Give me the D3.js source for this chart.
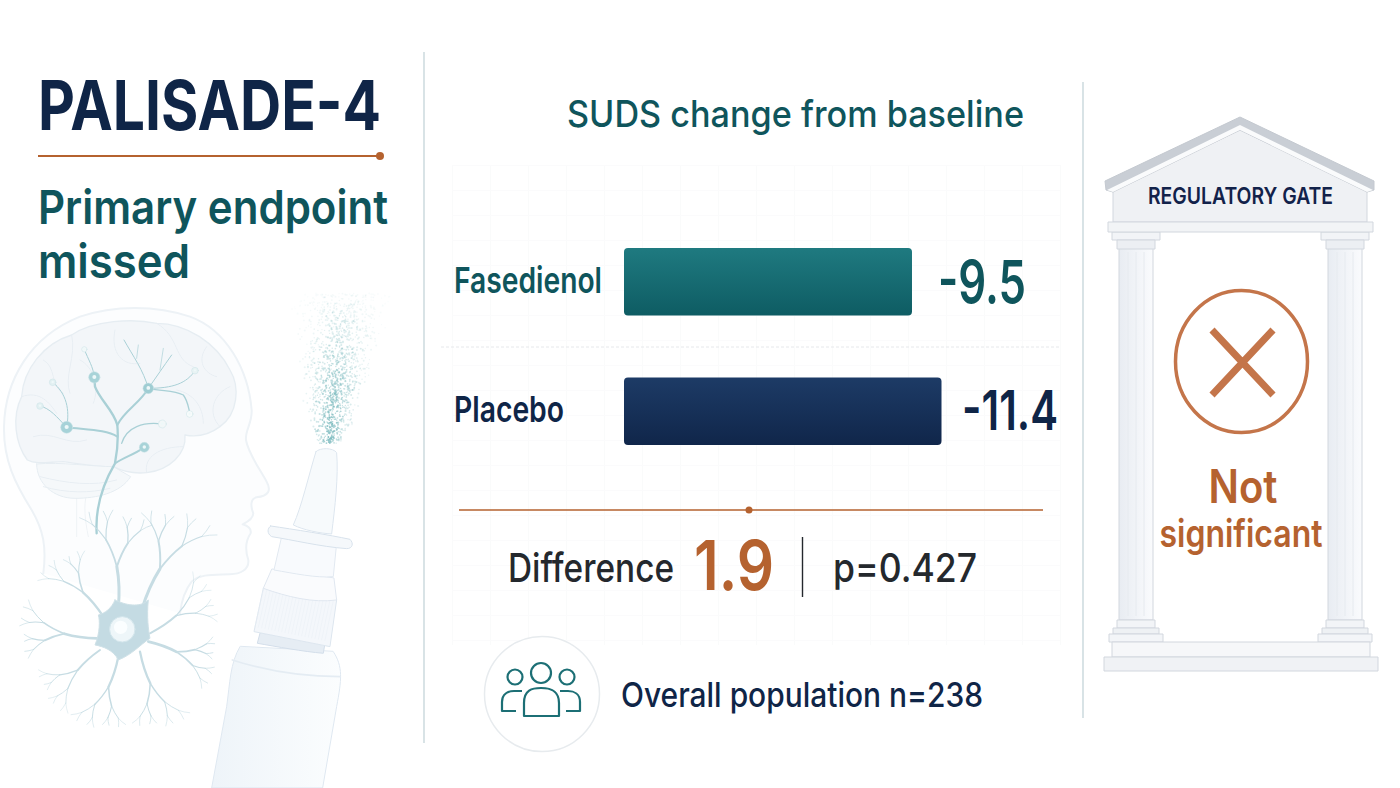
<!DOCTYPE html>
<html><head><meta charset="utf-8">
<script src="https://cdn.jsdelivr.net/npm/d3@7/dist/d3.min.js"></script>
<style>html,body{margin:0;padding:0;background:#fff;overflow:hidden}svg{display:block}text{font-family:Inter,Roboto,sans-serif}</style>
</head><body><svg id="c" width="1400" height="788" viewBox="0 0 1400 788"></svg>
<script>
const categories = ["Fasedienol", "Placebo"];
const values = [-9.5, -11.4];
const difference = 1.9;
const pValue = "p=0.427";
const population = "Overall population n=238";
const title = "PALISADE-4";
const subtitle = ["Primary endpoint", "missed"];
const chartTitle = "SUDS change from baseline";
const verdict = ["Not", "significant"];
const gateLabel = "REGULATORY GATE";

const NAVY="#0f2547", TEAL="#0f555c", RUST="#b5622f", INK="#24282d";
const svg=d3.select("#c");
const defs=svg.append("defs");
function grad(id,a,b,h){const g=defs.append("linearGradient").attr("id",id).attr("x1",0).attr("x2",h?1:0).attr("y1",0).attr("y2",h?0:1);
 g.append("stop").attr("offset",0).attr("stop-color",a);g.append("stop").attr("offset",1).attr("stop-color",b);}
grad("g0","#1f7a80","#0e5c63");grad("g1","#1d3b66","#10264a");
grad("shaft","#e8ecf2","#fafbfd",true);grad("bottle","#eef4f9","#fbfdfe",true);
function T(s,x,y,size,fill,weight,len,anchor){const t=svg.append("text").attr("x",x).attr("y",y).attr("font-size",size).attr("fill",fill).attr("font-weight",weight).text(s);
 if(anchor)t.attr("text-anchor",anchor);
 if(len)t.attr("textLength",len).attr("lengthAdjust","spacingAndGlyphs");return t;}

/* ---------- left illustration (traced in 3x crop space) ---------- */
const il=svg.append("g").attr("transform","translate(0,280) scale(0.3333)").attr("fill","none").attr("stroke-linecap","round").attr("stroke-linejoin","round");
il.append("path").attr("d","M130,880 C140,800 130,750 95,690 C45,610 10,540 12,440 C15,300 90,170 240,110 C340,75 470,75 570,110 C680,150 745,270 755,390 C757,430 735,450 738,480 C745,520 775,560 800,605 C815,632 805,648 770,652 C750,656 752,680 760,700 C760,715 745,725 728,733 C745,738 755,745 752,760 C735,785 735,810 745,840 C748,870 720,882 690,883 C650,885 600,880 575,905 C555,930 545,960 540,1000")
 .attr("fill","#fcfdfe").attr("stroke","#edf2f6").attr("stroke-width",6);
il.append("path").attr("d","M230,650 L230,770 M260,640 C250,680 255,720 265,770").attr("stroke","#eff3f6").attr("stroke-width",3);
il.append("path").attr("d","M82,540 C45,490 35,410 65,350 C70,270 130,190 215,165 C280,120 400,115 470,130 C560,130 650,190 690,270 C720,320 715,400 660,440 C620,470 580,470 555,465 C560,520 510,570 440,578 C400,582 370,575 340,560 C280,560 230,550 190,545 C150,545 110,555 82,540 Z")
 .attr("fill","#f3f6f9").attr("stroke","#e6edf2").attr("stroke-width",4);
il.append("path").attr("d","M110,552 C110,610 160,655 225,655 C290,655 360,640 392,590 L340,560 C280,560 180,545 110,552 Z").attr("fill","#f5f8fa").attr("stroke","#e6edf2").attr("stroke-width",3);
["M215,165 C230,230 190,290 210,340","M345,150 C330,220 370,260 420,250","M470,130 C540,170 520,240 580,260","M65,350 C120,330 150,370 170,400","M660,440 C620,400 640,340 690,320","M100,470 C160,450 200,500 260,480","M440,578 C430,530 480,500 550,500","M240,240 C280,260 300,320 280,370","M530,330 C580,340 610,380 610,430","M130,240 C170,260 150,320 190,340","M620,200 C590,240 610,280 650,290","M120,590 C200,610 280,620 350,600","M130,620 C200,640 270,640 330,625"]
 .forEach(d=>il.append("path").attr("d",d).attr("stroke","#e8eef3").attr("stroke-width",3));
const pw="#a9d0d6";
[["M290,760 C285,680 310,610 345,550 C355,500 355,470 352,435 C340,390 300,360 285,320 L283,292",7],
 ["M352,435 C375,390 420,370 445,325",6],["M445,325 C490,335 520,330 550,345 C565,365 565,385 570,400",4],["M445,325 C520,325 560,310 585,272",3],
 ["M445,325 C430,270 400,230 372,180",3],["M445,325 C470,290 490,260 515,225",3],["M410,235 L415,195",2],["M480,270 L490,205",2],
 ["M345,550 C375,530 400,525 433,502",6],["M365,490 C380,440 430,425 487,432",4],
 ["M352,470 C320,450 270,450 200,442",6],["M200,442 C210,390 200,340 158,307",3],["M200,442 C170,410 150,385 120,378",3],["M283,292 C280,260 265,240 253,208",3]]
 .forEach(([d,w])=>il.append("path").attr("d",d).attr("stroke",pw).attr("stroke-width",w));
[[283,292,17,"#a8d3d8"],[445,325,16,"#9fcdd3"],[200,442,18,"#a6d2d8"],[433,502,15,"#a8d3d8"],[158,307,10,"#e2f0f2"],[120,378,10,"#e2f0f2"],[253,208,8,"#f2f8f9"],[585,272,10,"#e8f3f4"],[569,402,10,"#f7fbfb"],[487,432,12,"#f2f7f8"]]
 .forEach(([x,y,r,f])=>{il.append("circle").attr("cx",x).attr("cy",y).attr("r",r).attr("fill",f).attr("stroke","#cbe3e6").attr("stroke-width",1.5);
  il.append("circle").attr("cx",x).attr("cy",y-1).attr("r",r*.35).attr("fill","#eef8f9");});
// neuron: fixed branching tree
const nc="#c6dce3";
function branch(x0,y0,ang,len,depth,w,flip){
 const a=ang*Math.PI/180, x1=x0+Math.cos(a)*len, y1=y0+Math.sin(a)*len;
 const ca=(ang+(flip?7:-7))*Math.PI/180, mx=x0+Math.cos(ca)*len*.55, my=y0+Math.sin(ca)*len*.55;
 il.append("path").attr("d",`M${x0},${y0} Q${mx},${my} ${x1},${y1}`).attr("stroke",nc).attr("stroke-width",w);
 if(depth>0){ const s=flip?1:-1;
  branch(x1,y1,ang+s*27,len*.62,depth-1,w*.66,!flip);
  branch(x1,y1,ang-s*20,len*.7,depth-1,w*.6,flip);
 }
}
[[355,985,-92,125,3,9,true],[425,990,-66,135,3,9,false],[310,1010,-130,95,3,7,true],[292,1075,-172,100,3,8,false],[300,1110,138,90,3,6,true],[355,1130,108,95,3,7,false],[420,1115,72,100,3,7,true],[445,1085,20,90,3,8,false],[450,1060,-34,95,3,6,true]]
 .forEach(t=>branch(...t));
il.append("path").attr("d","M345,960 C375,975 420,985 445,960 C440,1010 445,1050 450,1075 C420,1095 395,1125 355,1140 C340,1110 310,1100 285,1095 C300,1060 300,1020 295,1005 C315,1000 335,985 345,960 Z").attr("fill","#c4dbe3").attr("stroke","#cfe1e7").attr("stroke-width",3);
il.append("circle").attr("cx",367).attr("cy",1048).attr("r",38).attr("fill","#eef6f9").attr("stroke","#d4e6ec").attr("stroke-width",3);
il.append("circle").attr("cx",362).attr("cy",1042).attr("r",20).attr("fill","#fbfeff");
// mist: fixed hash-placed specks
const hash=k=>{const s=Math.sin(k*12.9898)*43758.5453;return s-Math.floor(s);};
d3.range(1400).forEach(i=>{const t=hash(i+1), v=hash(i+5001), w=(v+hash(i+9001))-1;
 const yy=490-t*450, half=35+125*Math.pow(t,.65), cx=985+t*45;
 const op=(.8-.72*t)*(1-Math.abs(w)*.8);
 il.append("circle").attr("cx",cx+w*half).attr("cy",yy).attr("r",1.8+hash(i+77)*1.4).attr("stroke","none").attr("fill","#7fbcc0").attr("opacity",op);});
// bottle
il.append("path").attr("d","M720,1100 C690,1150 690,1210 680,1280 L635,1524 L968,1524 L1010,1280 C1025,1200 1030,1160 1000,1115 Z").attr("fill","url(#bottle)").attr("stroke","#dfe8f1").attr("stroke-width",3);
il.append("path").attr("d","M697,1140 C790,1170 900,1190 1020,1190").attr("stroke","#e4ecf3").attr("stroke-width",5);
il.append("path").attr("d","M780,1060 L772,1090 C830,1100 910,1115 970,1120 L975,1090 Z").attr("fill","#e6edf4").attr("stroke","#d3deea").attr("stroke-width",3);
il.append("path").attr("d","M790,925 L762,1055 L990,1100 L1010,960 Z").attr("fill","#f4f7fb").attr("stroke","#dde6ef").attr("stroke-width",3);
d3.range(0,22).forEach(i=>{const fx=790+i*10; il.append("line").attr("x1",fx).attr("y1",930+i*1.5).attr("x2",fx-25).attr("y2",1040+i*2).attr("stroke","#e8eef4").attr("stroke-width",1.5);});
il.append("path").attr("d","M815,868 L790,925 C860,950 940,970 1010,960 L1002,895 Z").attr("fill","#fafbfd").attr("stroke","#e0e7f0").attr("stroke-width",3);
il.append("path").attr("d","M845,770 L822,870 C880,880 950,895 1000,890 L1010,790 Z").attr("fill","#f8fafd").attr("stroke","#e2e9f1").attr("stroke-width",3);
il.append("path").attr("d","M812,738 C880,748 990,765 1050,778 C1062,790 1058,806 1040,806 C960,800 880,780 815,770 C800,760 802,745 812,738 Z").attr("fill","#f5f8fb").attr("stroke","#d8e2ec").attr("stroke-width",3);
il.append("path").attr("d","M948,515 C960,502 1000,503 1010,518 C1016,590 1005,680 995,762 C960,760 910,750 880,735 C905,680 925,590 948,515 Z").attr("fill","#f7fafc").attr("stroke","#dde6ef").attr("stroke-width",3);

/* ---------- title block ---------- */
T(title,38,130,69,NAVY,700,343);
svg.append("line").attr("x1",38).attr("x2",380).attr("y1",156).attr("y2",156).attr("stroke",RUST).attr("stroke-width",2);
svg.append("circle").attr("cx",380).attr("cy",156).attr("r",4).attr("fill",RUST);
T(subtitle[0],38,224,47,TEAL,600,350);
T(subtitle[1],38,278,47,TEAL,600,152);

/* ---------- dividers ---------- */
svg.append("line").attr("x1",424).attr("x2",424).attr("y1",52).attr("y2",743).attr("stroke","#bfd0d6").attr("stroke-width",1.2);
svg.append("line").attr("x1",1083).attr("x2",1083).attr("y1",82).attr("y2",718).attr("stroke","#bfd0d6").attr("stroke-width",1.2);

/* ---------- chart panel ---------- */
T(chartTitle,567,127,37,TEAL,500,457);

const x=d3.scalePow().exponent(0.535).domain([0,-11.4]).range([624,941.5]);
const y=d3.scaleBand().domain(categories).range([248,445]).paddingInner(0.479).paddingOuter(0);

const gridV=d3.scaleLinear().domain([0,16]).range([452,1060]);
const gridH=d3.scaleLinear().domain([0,19]).range([165,640]);
const grid=svg.append("g").attr("class","grid");
grid.append("g").attr("transform","translate(0,165)").call(d3.axisBottom(gridV).ticks(16).tickSize(480).tickFormat(""))
 .call(g=>g.select(".domain").remove()).selectAll("line").attr("stroke","#fafbfb").attr("stroke-width",1);
grid.append("g").attr("transform","translate(452,0)").call(d3.axisRight(gridH).ticks(19).tickSize(608).tickFormat(""))
 .call(g=>g.select(".domain").remove()).selectAll("line").attr("stroke","#fbfbfc").attr("stroke-width",1);
svg.append("line").attr("x1",441).attr("x2",1061).attr("y1",347).attr("y2",347).attr("stroke","#e6e8eb").attr("stroke-width",1).attr("stroke-dasharray","3 2");

const rows=svg.append("g").selectAll("g").data(categories.map((c,i)=>({c,v:values[i],i}))).join("g");
rows.append("rect").attr("x",x(0)).attr("y",d=>y(d.c)).attr("width",d=>x(d.v)-x(0)).attr("height",y.bandwidth()).attr("rx",4).attr("fill",d=>`url(#g${d.i})`);
const catW=[148,110], catY=[293,422];
rows.append("text").attr("x",454).attr("y",d=>catY[d.i]).attr("font-size",36).attr("font-weight",600)
 .attr("fill",d=>d.i?NAVY:TEAL).attr("textLength",d=>catW[d.i]).attr("lengthAdjust","spacingAndGlyphs").text(d=>d.c);
const valW=[88,96], valX=[938,962], valY=[303,430];
rows.append("text").attr("x",d=>valX[d.i]).attr("y",d=>valY[d.i]).attr("font-size",d=>d.i?55:59).attr("font-weight",600)
 .attr("fill",d=>d.i?NAVY:TEAL).attr("textLength",d=>valW[d.i]).attr("lengthAdjust","spacingAndGlyphs").text(d=>String(d.v));

svg.append("line").attr("x1",459).attr("x2",1043).attr("y1",510).attr("y2",510).attr("stroke",RUST).attr("stroke-width",1.6);
svg.append("circle").attr("cx",749).attr("cy",510).attr("r",3.5).attr("fill",RUST);

T("Difference",508,582,40,INK,500,166);
T(String(difference),694,590,69,RUST,600,80);
svg.append("line").attr("x1",802.5).attr("x2",802.5).attr("y1",537).attr("y2",597).attr("stroke",INK).attr("stroke-width",1.4);
T(pValue,833,582,40,INK,500,144);

svg.append("circle").attr("cx",542).attr("cy",694).attr("r",57.5).attr("fill","#fff").attr("stroke","#e7ebee").attr("stroke-width",1.5);
const ic=svg.append("g").attr("fill","none").attr("stroke","#1c6f75").attr("stroke-width",2.2).attr("stroke-linejoin","round");
ic.append("circle").attr("cx",541).attr("cy",673).attr("r",10);
ic.append("circle").attr("cx",515).attr("cy",677).attr("r",7.5);
ic.append("circle").attr("cx",567).attr("cy",677).attr("r",7.5);
ic.append("path").attr("d","M524,716 L524,703 C524,690 532,688 541,688 C550,688 559,690 559,703 L559,716 Z");
ic.append("path").attr("d","M516,711 L502,711 L502,702 C502,694 508,691 514,691 L522,691");
ic.append("path").attr("d","M566,711 L580,711 L580,702 C580,694 574,691 568,691 L560,691");
T(population,621,707,34,NAVY,500,362);

/* ---------- gate ---------- */
const gt=svg.append("g").attr("stroke-linejoin","round");
const st="#d2d7de";
[1136,1345].forEach(cx=>{
 gt.append("rect").attr("x",cx-17).attr("y",248).attr("width",34).attr("height",372).attr("fill","url(#shaft)").attr("stroke",st);
 [-8,0,8].forEach(o=>gt.append("line").attr("x1",cx+o).attr("x2",cx+o).attr("y1",252).attr("y2",616).attr("stroke","#e6eaef"));
 gt.append("rect").attr("x",cx-24).attr("y",232).attr("width",48).attr("height",8).attr("fill","#f2f4f7").attr("stroke",st);
 gt.append("rect").attr("x",cx-19).attr("y",240).attr("width",38).attr("height",9).attr("fill","#eceff3").attr("stroke",st);
 gt.append("rect").attr("x",cx-19).attr("y",620).attr("width",38).attr("height",8).attr("fill","#f2f4f7").attr("stroke",st);
 gt.append("rect").attr("x",cx-23).attr("y",628).attr("width",46).attr("height",6).attr("fill","#eef1f4").attr("stroke",st);
 gt.append("rect").attr("x",cx-27).attr("y",634).attr("width",54).attr("height",8).attr("fill","#f3f5f8").attr("stroke",st);
});
gt.append("rect").attr("x",1112).attr("y",642).attr("width",258).attr("height",15).attr("fill","#f6f7f9").attr("stroke",st);
gt.append("rect").attr("x",1104).attr("y",657).attr("width",274).attr("height",14).attr("fill","#f0f2f5").attr("stroke",st);
gt.append("path").attr("d","M1113,190 L1240,130 L1367,190 L1367,222 L1113,222 Z").attr("fill","#eff1f4").attr("stroke",st);
gt.append("path").attr("d","M1105,181 L1240,117 L1374,181 L1374,190 L1367,192 L1240,130 L1113,192 L1106,190 Z").attr("fill","#c9ced5").attr("stroke","#c4c9d0");
gt.append("path").attr("d","M1107,190 L1240,125 L1373,190 L1367,192 L1240,130 L1113,192 Z").attr("fill","#fafbfc").attr("stroke","none");
gt.append("rect").attr("x",1108).attr("y",222).attr("width",265).attr("height",10).attr("fill","#f2f4f6").attr("stroke",st);
T(gateLabel,1148,204,23,"#12224a",600,185);

svg.append("ellipse").attr("cx",1241.5).attr("cy",361.5).attr("rx",66).attr("ry",71).attr("fill","none").attr("stroke","#c4754a").attr("stroke-width",3.5);
svg.append("path").attr("d","M1212,330 L1273,395 M1273,330 L1212,395").attr("stroke","#c4754a").attr("stroke-width",7).attr("fill","none");
T(verdict[0],1243,503,46,RUST,600,69,"middle");
T(verdict[1],1241,547,38,RUST,600,163,"middle");
</script></body></html>
